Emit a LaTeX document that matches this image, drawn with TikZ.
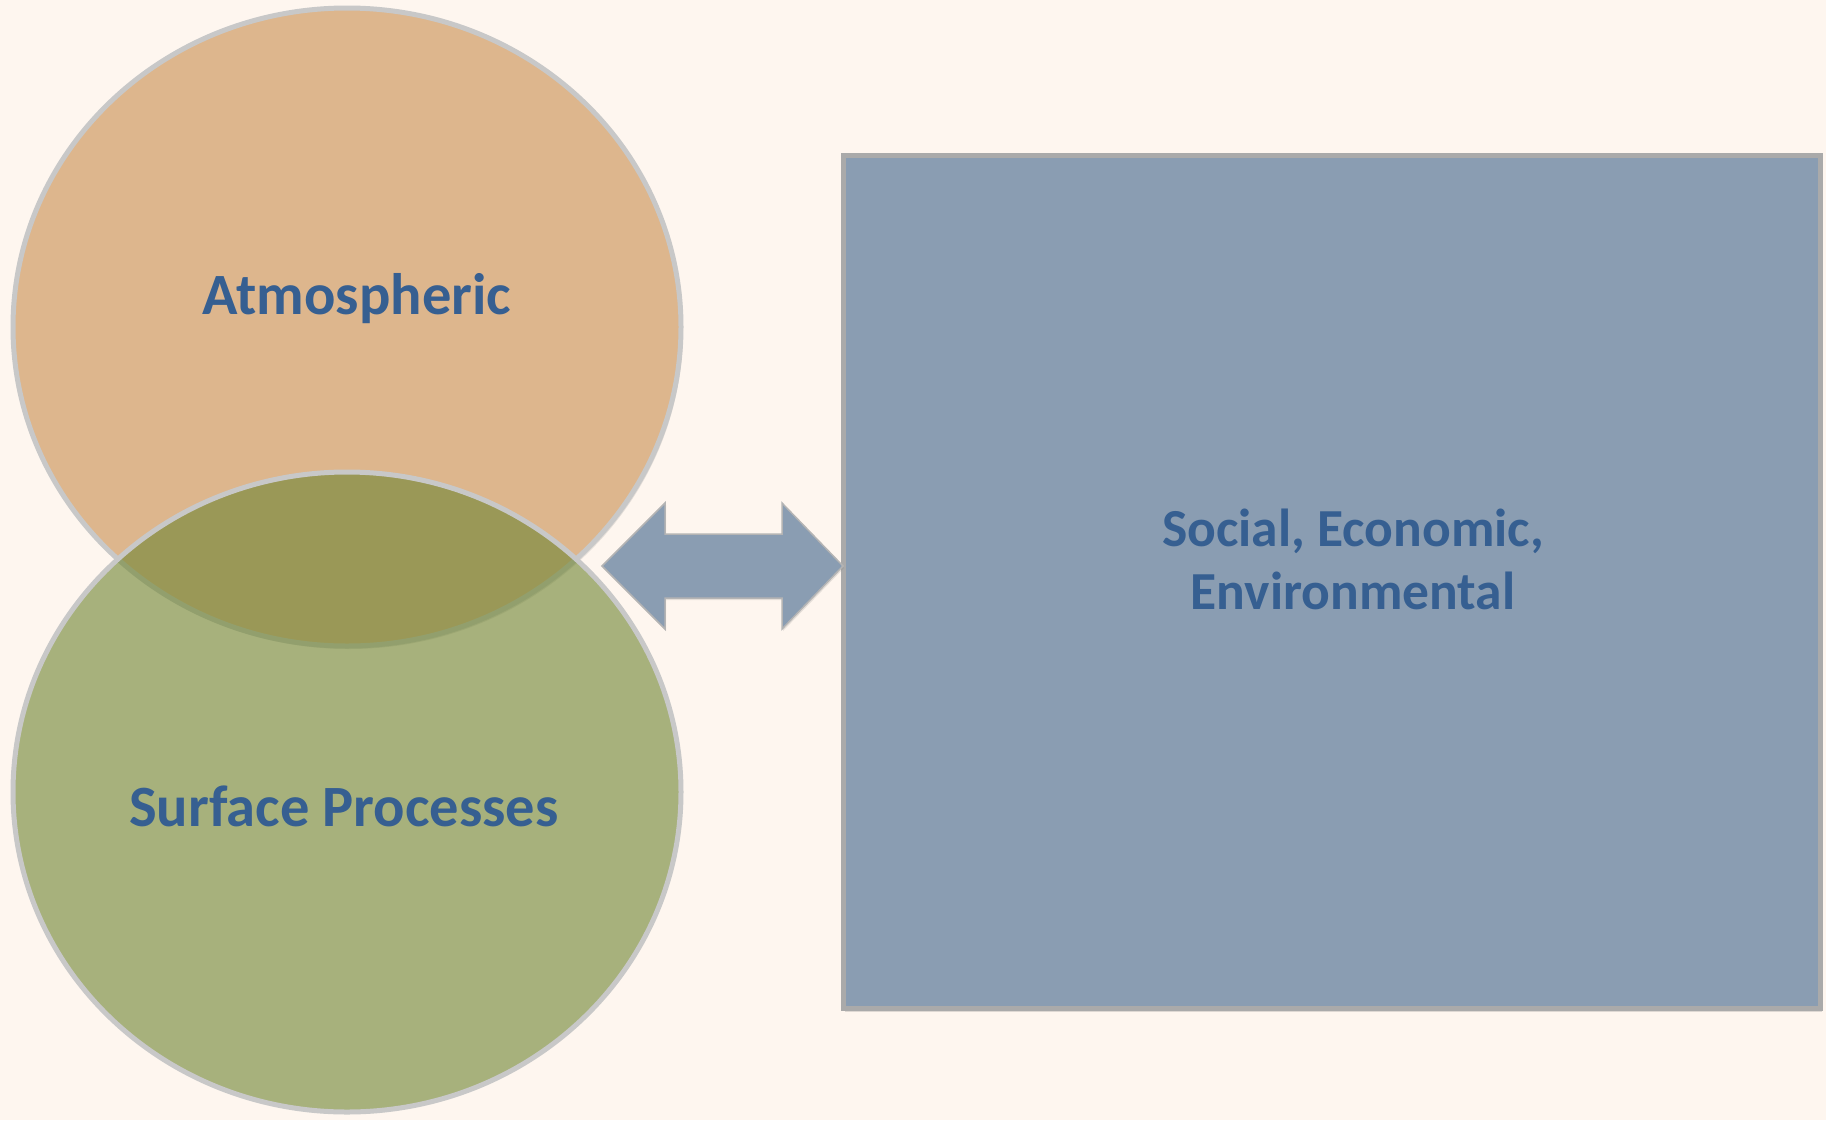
\documentclass[tikz,border=0pt]{standalone}
\usepackage{fontspec}
\setmainfont{Carlito}
\usepackage{xcolor}
\usetikzlibrary{shadows}
\definecolor{paper}{RGB}{254,246,239}
\definecolor{tan}{RGB}{221,182,141}
\definecolor{moss}{RGB}{114,135,54}
\definecolor{slate}{RGB}{138,157,178}
\definecolor{rim}{RGB}{200,200,200}
\definecolor{ink}{RGB}{54,95,145}
\tikzset{
  venn/.style={draw=rim, line width=5pt},
  label text/.style={text=ink, font=\fontsize{58.5}{63}\selectfont\bfseries, align=center},
}

\begin{document}
\begin{tikzpicture}[x=1pt,y=-1pt]
\fill [paper] (0,0) rectangle (1826,1120);
\useasboundingbox (0,0) rectangle (1826,1120);
% the two circles
\path [venn, fill=tan, drop shadow={opacity=.2,shadow xshift=2pt,shadow yshift=-3pt}] (347,327) ellipse [x radius=334, y radius=319];
\path [venn, fill=moss, fill opacity=.62] (347,792) ellipse [x radius=334, y radius=320];
\node [label text] (atmo) at (357,299) {Atmospheric};
\node [label text] (surf) at (344,806) {Surface Processes};
% the box on the right
\node [draw=rim!85!black, line width=5pt, fill=slate, inner sep=0pt,
       minimum width=977pt, minimum height=853pt,
       drop shadow={opacity=.25,shadow xshift=2pt,shadow yshift=-4pt}] (sec) at (1331.5,581.5) {};
\node [label text, font=\fontsize{53.5}{63}\selectfont\bfseries] (sectext) at (1353,559) {Social, Economic,\\Environmental};
% the two-way arrow
\path [fill=slate, draw=rim!90!black, line width=1.5pt,
       drop shadow={opacity=.2,shadow xshift=1pt,shadow yshift=-2pt}]
  (602,566) -- (665,503) -- (665,534) -- (782,534) -- (782,503) -- (843,566)
  -- (782,629) -- (782,598) -- (665,598) -- (665,629) -- cycle;
\end{tikzpicture}
\end{document}
